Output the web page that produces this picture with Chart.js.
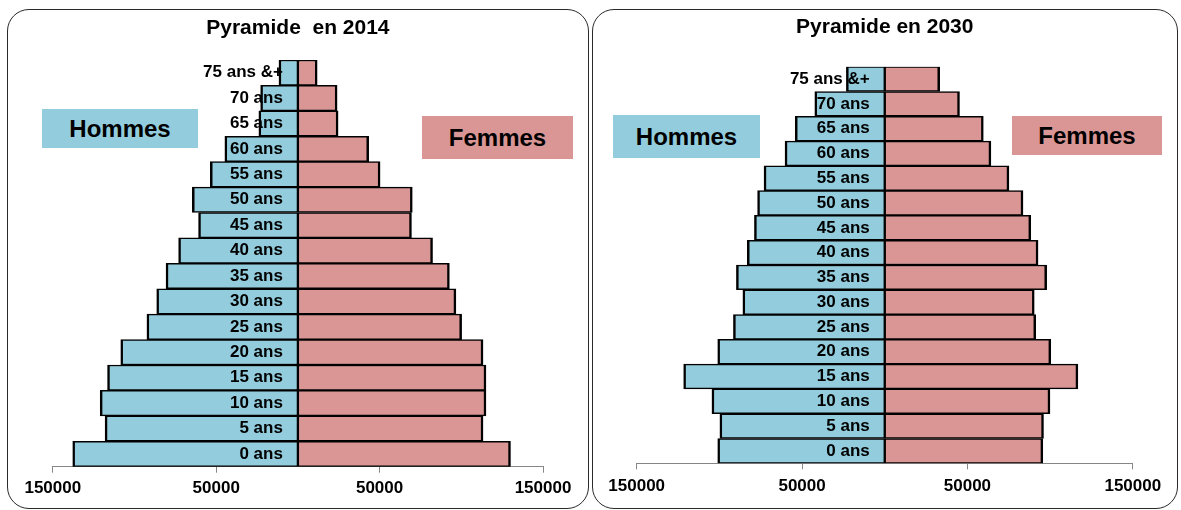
<!DOCTYPE html>
<html>
<head>
<meta charset="utf-8">
<script src="https://cdn.jsdelivr.net/npm/chart.js@4/dist/chart.umd.min.js"></script>
<style>
  body { margin: 0; width: 1181px; height: 510px; background: #fff; position: relative; overflow: hidden;
         font-family: "Liberation Sans", Arial, sans-serif; }
  .panel { position: absolute; top: 9px; height: 500px; border: 1px solid #2a2a2a; border-radius: 22px; box-sizing: border-box; }
  .panel canvas { position: absolute; left: 0; top: 0; }
  .box { position: absolute; font-weight: bold; font-size: 24px; color: #000;
         display: flex; align-items: center; justify-content: center; }
</style>
</head>
<body>
<div class="panel" style="left:7px; width:582px;">
  <canvas id="chart2014" width="580" height="498"></canvas>
  <div class="box hommes" style="left:34px; top:99px; width:156px; height:39px;">Hommes</div>
  <div class="box femmes" style="left:414px; top:106px; width:151px; height:43px;">Femmes</div>
</div>
<div class="panel" style="left:592px; width:586px;">
  <canvas id="chart2030" width="584" height="498"></canvas>
  <div class="box hommes" style="left:20px; top:105px; width:147px; height:43px;">Hommes</div>
  <div class="box femmes" style="left:419px; top:106px; width:150px; height:39px;">Femmes</div>
</div>
<script>
const ages = ["0 ans", "5 ans", "10 ans", "15 ans", "20 ans", "25 ans", "30 ans", "35 ans",
  "40 ans", "45 ans", "50 ans", "55 ans", "60 ans", "65 ans", "70 ans", "75 ans &+"];

const hommes2014 = [137800, 118000, 121000, 116500, 108400, 92400, 86400, 80700,
  73000, 60800, 64600, 53600, 44700, 23900, 22800, 11600];
const femmes2014 = [130100, 113300, 115100, 115100, 113300, 100200, 96700, 92700,
  82400, 69500, 70000, 50300, 43300, 24600, 24000, 11800];

const hommes2030 = [101000, 99700, 104500, 121600, 101000, 91500, 85800, 89700,
  83100, 78800, 76900, 73000, 60300, 54100, 42300, 23200];
const femmes2030 = [95600, 96000, 99900, 116800, 100400, 91300, 90400, 97900,
  92700, 88300, 83600, 75100, 64200, 59600, 45200, 33200];

const tickValues = [-150000, -50000, 50000, 150000];

const BLUE = "#93CDDD";
const PINK = "#D99694";
const FONT = '"Liberation Sans", Arial, sans-serif';

document.querySelectorAll(".hommes").forEach((el) => (el.style.background = BLUE));
document.querySelectorAll(".femmes").forEach((el) => (el.style.background = PINK));

// age labels sit on the bars, just left of the zero line
const ageLabels = {
  id: "ageLabels",
  afterDatasetsDraw(chart) {
    const { ctx, scales: { x, y } } = chart;
    ctx.save();
    ctx.font = "bold 17px " + FONT;
    ctx.fillStyle = "#000";
    ctx.textAlign = "right";
    ctx.textBaseline = "middle";
    const x0 = x.getPixelForValue(0) - 15;
    chart.data.labels.forEach((lab, i) => ctx.fillText(lab, x0, y.getPixelForValue(i)));
    ctx.restore();
  },
};

const makeChart = (id, title, hommes, femmes, pad, titlePad, tickPad) => {
  const ctx = document.getElementById(id).getContext("2d");
  return new Chart(ctx, {
    type: "bar",
    data: {
      labels: ages,
      datasets: [
        {
          label: "Hommes",
          data: hommes.map((v) => -v),
          backgroundColor: BLUE,
          borderColor: "#000",
          borderWidth: { left: 2.5, right: 1.5, top: 1.5, bottom: 1.5 },
          borderSkipped: false,
        },
        {
          label: "Femmes",
          data: femmes,
          backgroundColor: PINK,
          borderColor: "#000",
          borderWidth: { left: 1.5, right: 2.5, top: 1.5, bottom: 1.5 },
          borderSkipped: false,
        },
      ],
    },
    options: {
      indexAxis: "y",
      responsive: false,
      animation: false,
      barPercentage: 1,
      categoryPercentage: 1,
      layout: { padding: pad },
      plugins: {
        legend: { display: false },
        tooltip: { enabled: false },
        title: {
          display: true,
          text: title,
          color: "#000",
          font: { family: FONT, size: 21, weight: "bold" },
          padding: titlePad,
        },
      },
      scales: {
        x: {
          stacked: true,
          min: -150000,
          max: 150000,
          afterBuildTicks: (axis) => {
            axis.ticks = tickValues.map((v) => ({ value: v }));
          },
          grid: { drawOnChartArea: false, drawTicks: true, tickLength: 6, color: "#868686" },
          border: { color: "#868686", width: 1 },
          ticks: {
            color: "#000",
            padding: tickPad,
            maxRotation: 0,
            autoSkip: false,
            font: { family: FONT, size: 17, weight: "bold" },
            callback: (v) => String(Math.abs(v)),
          },
        },
        y: {
          stacked: true,
          reverse: true,
          display: false,
        },
      },
    },
    plugins: [ageLabels],
  });
};

makeChart("chart2014", "Pyramide  en 2014", hommes2014, femmes2014,
  { left: 44.8, right: 45, top: 0, bottom: 4.9 }, { top: 5.4, bottom: 19.4 }, 5);
makeChart("chart2030", "Pyramide en 2030", hommes2030, femmes2030,
  { left: 43.7, right: 44.2, top: 0, bottom: 5.3 }, { top: 4.9, bottom: 26.6 }, 6.5);
</script>
</body>
</html>
